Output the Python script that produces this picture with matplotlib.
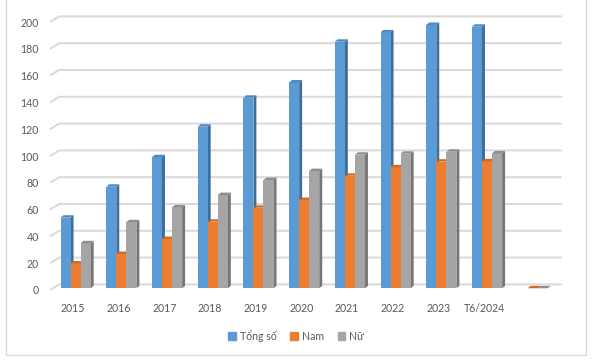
import numpy as np
import matplotlib
matplotlib.use('Agg')
import matplotlib.pyplot as plt
from matplotlib.patches import Polygon, Patch, Rectangle

plt.rcParams['font.family'] = ['Lato', 'DejaVu Sans']

categories = ['2015', '2016', '2017', '2018', '2019', '2020', '2021', '2022', '2023', 'T6/2024', '']
tong_so = [52.7, 75.8, 97.8, 120.6, 142.2, 153.6, 184.0, 191.0, 196.5, 195.2, np.nan]
nam = [18.5, 25.6, 36.8, 49.7, 60.1, 65.9, 84.0, 90.3, 94.5, 94.8, 0]
nu = [33.6, 49.3, 60.4, 69.6, 80.8, 87.5, 99.7, 100.4, 101.9, 100.7, 0]
series_names = ['Tổng số', 'Nam', 'Nữ']

front = ['#5B9BD5', '#ED7D31', '#A5A5A5']
side = ['#3F6E9A', '#B05A1F', '#767676']
top = ['#4C87BE', '#D06A25', '#8E8E8E']
text_c = '#595959'
grid_c = '#D9D9D9'

fig = plt.figure(figsize=(5.99, 3.62), dpi=100)
ax = fig.add_axes([50 / 599, 72 / 362, 512 / 599, 274.7 / 362])
ax.set_xlim(-0.5, 10.7)
ax.set_ylim(0, 205)

# back-wall gridlines with perspective slant
gdx, gdy = 0.2, 4.2
for v in range(0, 201, 20):
    ax.plot([-0.5, -0.5 + gdx, 10.7], [v, v + gdy, v + gdy], color=grid_c,
            lw=1.4, zorder=1, clip_on=False, solid_capstyle='butt')

x = np.arange(len(categories))
width = 0.22
offsets = [-0.27, -0.05, 0.17]
zoff = 1.3
ddx, ddy = 0.065, 1.8

for k, vals in enumerate([tong_so, nam, nu]):
    xs = x + offsets[k]
    bars = ax.bar(xs, vals, width=width, bottom=zoff, align='edge',
                  color=front[k], zorder=3 + k, linewidth=0)
    for b, v in zip(bars, vals):
        if np.isnan(v):
            continue
        x0 = b.get_x()
        x1 = x0 + b.get_width()
        y0 = b.get_y()
        y1 = y0 + b.get_height()
        ax.add_patch(Polygon([(x1, y0), (x1 + ddx, y0 + ddy), (x1 + ddx, y1 + ddy), (x1, y1)],
                             closed=True, color=side[k], lw=0, zorder=2.5 + k))
        ax.add_patch(Polygon([(x0, y1), (x1, y1), (x1 + ddx, y1 + ddy), (x0 + ddx, y1 + ddy)],
                             closed=True, color=top[k], lw=0, zorder=3 + k))

ax.set_xticks(x)
ax.set_xticklabels(categories)
ax.set_yticks(range(0, 201, 20))
ax.tick_params(axis='both', length=0, labelsize=7.6, colors=text_c)
ax.tick_params(axis='x', pad=9)
ax.tick_params(axis='y', pad=8)
for s in ax.spines.values():
    s.set_visible(False)
ax.patch.set_visible(False)

handles = [Patch(color=c) for c in front]
fig.legend(handles, series_names, loc='center', bbox_to_anchor=(296 / 599, 1 - 336 / 362),
           ncol=3, frameon=False, fontsize=7.6, labelcolor=text_c,
           handlelength=0.75, handleheight=0.75, handletextpad=0.35, columnspacing=1.3)

fig.patches.append(Rectangle((5.7 / 599, 1 - 354.5 / 362), (585.5 - 5.7) / 599, 0.05 + 354.5 / 362,
                             transform=fig.transFigure, fill=False, edgecolor=grid_c, lw=1))

fig.savefig('out.png', dpi=100)
